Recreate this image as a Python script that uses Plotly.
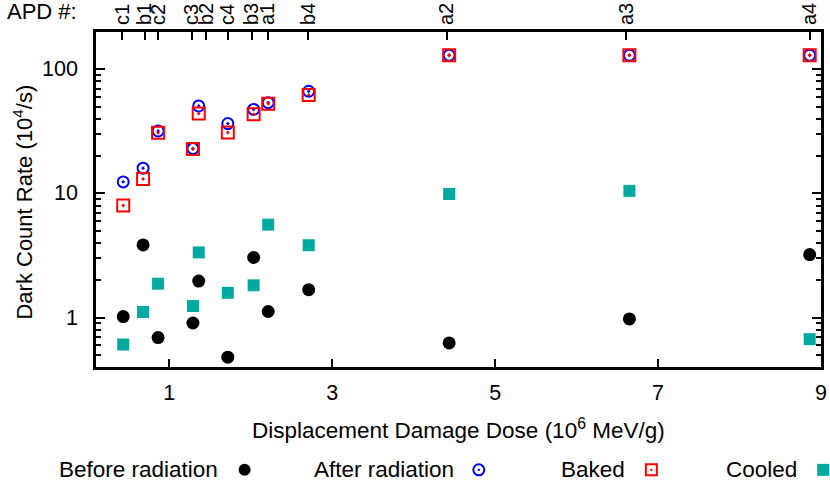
"""Dark count rate of APDs vs displacement damage dose."""

import math
import plotly.graph_objects as go

# dose of each APD (10^6 MeV/g)
apd_names = ["c1", "b1", "c2", "c3", "b2", "c4", "b3", "a1", "b4", "a2", "a3", "a4"]
dose = [0.434, 0.678, 0.862, 1.290, 1.361, 1.718, 2.035, 2.214, 2.711, 4.435, 6.648, 8.861]
# where the APD labels sit on the top axis
apd_tick_pos = [0.425, 0.698, 0.862, 1.278, 1.452, 1.718, 2.011, 2.207, 2.703, 4.407, 6.607, 8.861]

# dark count rate (10^4/s)
before_rad = [1.02, 3.85, 0.69, 0.905, 1.97, 0.48, 3.05, 1.12, 1.68, 0.625, 0.975, 3.22]
after_rad = [12.4, 16.0, 31.9, 23.0, 50.7, 36.6, 47.6, 53.9, 66.6, 130, 130, 130]
baked = [8.0, 13.1, 30.8, 22.8, 44.0, 31.0, 43.4, 52.9, 62.2, 130, 130, 130]
cooled = [0.607, 1.11, 1.875, 1.24, 3.35, 1.585, 1.82, 5.61, 3.83, 9.9, 10.5, 0.67]

y_ticks = [1, 10, 100]

FONT = "Liberation Sans, Arial, sans-serif"
TEAL = "#00aaa0"

series = [
    ("Before radiation", before_rad, dict(symbol="circle", size=13, color="black")),
    ("After radiation", after_rad, dict(symbol="circle-open-dot", size=11, color="#0000ff",
                                        line=dict(width=2, color="#0000ff"))),
    ("Baked", baked, dict(symbol="square-open-dot", size=12, color="#ff0000",
                          line=dict(width=2, color="#ff0000"))),
    ("Cooled", cooled, dict(symbol="square", size=12, color=TEAL)),
]

fig = go.Figure()
for name, vals, marker in series:
    fig.add_trace(go.Scatter(x=dose, y=vals, mode="markers", name=name,
                             marker=marker, showlegend=False))

# empty trace so the top axis is drawn
fig.add_trace(go.Scatter(x=[], y=[], xaxis="x2", showlegend=False, hoverinfo="skip"))

# legend drawn gnuplot style: text, then symbol to its right
leg_text_x = [0.171, 0.4966, 0.7324, 0.9697]
leg_key_x = [0.205, 0.528, 0.766, 1.003]
leg_y = -0.307
annotations = []
shapes = []
for (name, _, marker), tx, kx in zip(series, leg_text_x, leg_key_x):
    annotations.append(dict(text=name, x=tx, y=leg_y, xref="paper", yref="paper",
                            xanchor="right", yanchor="middle", showarrow=False,
                            font=dict(size=22.5, color="black", family=FONT)))
    sym = marker["symbol"]
    col = marker["color"]
    base = dict(xref="paper", yref="paper", xsizemode="pixel", ysizemode="pixel",
                xanchor=kx, yanchor=leg_y)
    if sym == "circle":
        shapes.append(dict(type="circle", x0=-6, x1=6, y0=-6, y1=6,
                           fillcolor=col, line=dict(width=0), **base))
    elif sym == "square":
        shapes.append(dict(type="rect", x0=-6, x1=6, y0=-6, y1=6,
                           fillcolor=col, line=dict(width=0), **base))
    else:
        kind = "circle" if sym.startswith("circle") else "rect"
        shapes.append(dict(type=kind, x0=-5.5, x1=5.5, y0=-5.5, y1=5.5,
                           line=dict(width=2, color=col), **base))
        shapes.append(dict(type="circle", x0=-1.2, x1=1.2, y0=-1.2, y1=1.2,
                           fillcolor=col, line=dict(width=0), **base))

# y tick labels placed like gnuplot's (closer to the frame than plotly's default)
for v in y_ticks:
    annotations.append(dict(text=str(v), x=-0.022, y=math.log10(v), xref="paper", yref="y",
                            xanchor="right", yanchor="middle", showarrow=False,
                            font=dict(size=21.5, color="black", family=FONT)))

annotations += [
    dict(text="APD #:", x=-0.0745, y=1.062, xref="paper", yref="paper",
         xanchor="center", yanchor="middle", showarrow=False,
         font=dict(size=22, color="black", family=FONT)),
    dict(text="Displacement Damage Dose (10<sup>6</sup> MeV/g)", x=0.5, y=-0.185,
         xref="paper", yref="paper", xanchor="center", yanchor="middle", showarrow=False,
         font=dict(size=22.5, color="black", family=FONT)),
    dict(text="Dark Count Rate (10<sup>4</sup>/s)", x=-0.102, y=0.491, textangle=-90,
         xref="paper", yref="paper", xanchor="center", yanchor="middle", showarrow=False,
         font=dict(size=22, color="black", family=FONT)),
]

fig.update_layout(
    width=830, height=489,
    margin=dict(l=96, r=9, t=32, b=122),
    plot_bgcolor="white", paper_bgcolor="white",
    font=dict(family=FONT, size=21.5, color="black"),
    xaxis=dict(
        range=[0.1, 9], automargin=False,
        tickmode="linear", tick0=1, dtick=2, ticklabelstandoff=4,
        ticks="inside", ticklen=8, tickwidth=2, tickcolor="black",
        showline=True, linewidth=3, linecolor="black",
        showgrid=False, zeroline=False, mirror=False,
    ),
    xaxis2=dict(
        overlaying="x", side="top", range=[0.1, 9], automargin=False,
        tickmode="array", tickvals=apd_tick_pos, ticktext=apd_names,
        tickangle=-90, tickfont=dict(size=20), ticklabelstandoff=0,
        ticks="inside", ticklen=8, tickwidth=2, tickcolor="black",
        showline=True, linewidth=3, linecolor="black",
        showgrid=False, zeroline=False,
    ),
    yaxis=dict(
        type="log", range=[-0.398, 2.301], automargin=False,
        tickmode="linear", tick0=0, dtick=1, showticklabels=False,
        ticks="inside", ticklen=9, tickwidth=2, tickcolor="black",
        minor=dict(dtick="D1", ticks="inside", ticklen=5, tickwidth=2, tickcolor="black"),
        showline=True, linewidth=3, linecolor="black", mirror="ticks",
        showgrid=False, zeroline=False,
    ),
    annotations=annotations,
    shapes=shapes,
)

# drop the browser's default 8px body margin so the figure fills the window
fig.write_html("out.html", config={"displayModeBar": False},
               post_script="document.body.style.margin = '0';")
